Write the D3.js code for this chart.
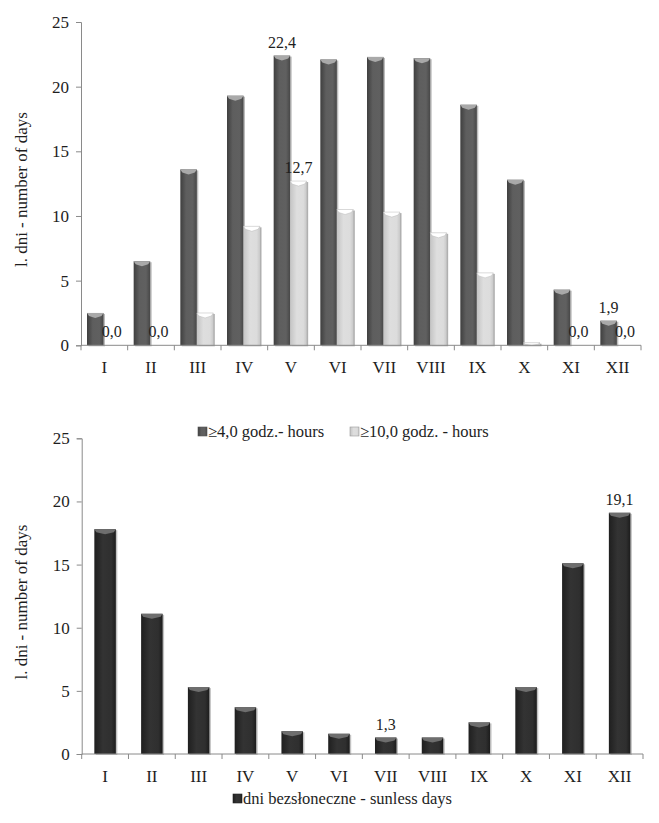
<!DOCTYPE html>
<html><head><meta charset="utf-8">
<script src="https://cdn.jsdelivr.net/npm/d3@7"></script>
<style>
body{margin:0;background:#fff;}
</style></head>
<body><svg id="c" width="659" height="823"></svg>
<script>
const months = ["I","II","III","IV","V","VI","VII","VIII","IX","X","XI","XII"];
const hours4 = [2.5,6.5,13.6,19.3,22.4,22.1,22.3,22.2,18.6,12.8,4.3,1.9];
const hours10 = [0.0,0.0,2.5,9.2,12.7,10.5,10.3,8.7,5.6,0.2,0.0,0.0];
const sunless = [17.8,11.1,5.3,3.7,1.8,1.6,1.3,1.3,2.5,5.3,15.1,19.1];
const yTicks = [0,5,10,15,20,25];
const legendTop = ["≥4,0 godz.- hours","≥10,0 godz. - hours"];
const legendBottom = "dni bezsłoneczne - sunless days";
const yTitle = "l. dni  - number of days";
// labelled points: [series, monthIndex]
const topLabels = [["h10",0],["h10",1],["h4",4],["h10",4],["h4",11],["h10",10],["h10",11]];
const bottomLabels = [6,11];

const FONT = "'Liberation Serif', 'Times New Roman', 'DejaVu Serif', serif";
const svg = d3.select("#c");
const defs = svg.append("defs");
function grad(id, stops){
  const g = defs.append("linearGradient").attr("id",id).attr("x1","0").attr("x2","1").attr("y1","0").attr("y2","0");
  stops.forEach(s=>g.append("stop").attr("offset",s[0]).attr("stop-color",s[1]));
}
grad("gDark",[[0,"#3f3f3f"],[0.35,"#5e5e5e"],[0.75,"#606060"],[1,"#474747"]]);
grad("gLight",[[0,"#c4c4c4"],[0.4,"#dedede"],[0.8,"#dcdcdc"],[1,"#c8c8c8"]]);
grad("gBlack",[[0,"#1f1f1f"],[0.4,"#333333"],[0.8,"#2f2f2f"],[1,"#1c1c1c"]]);
const fmt = v => d3.format(".1f")(v).replace(".",",");

function txt(g, x, y, s, size, anchor){
  return g.append("text").attr("x",x).attr("y",y).attr("text-anchor",anchor||"start")
    .attr("font-family",FONT).style("font-family",FONT).style("font-size",size+"px").attr("fill","#1e1e1e").text(s);
}

function drawBar(g, x, y, w, h, fill, capFill, shadow, capStroke){
  if(h<0) h=0;
  g.append("rect").attr("x",x+1.5).attr("y",y+1).attr("width",w).attr("height",h).attr("fill",shadow);
  g.append("rect").attr("x",x).attr("y",y).attr("width",w).attr("height",h).attr("fill",fill);
  const ch = Math.min(5,h);
  if(ch>0.5){
    g.append("path").attr("d",`M${x},${y}L${x+w},${y}L${x+w-2},${y+ch*0.6}L${x+w/2},${y+ch}L${x+2},${y+ch*0.6}Z`)
      .attr("fill",capFill).attr("stroke",capStroke||"none").attr("stroke-width",0.5);
  }
}

function axes(g, x, y, x0, x1, yBase){
  const ya = d3.axisLeft(y).tickValues(yTicks).tickSize(5).tickPadding(7).tickFormat(d=>d);
  const ag = g.append("g").attr("transform",`translate(${x0},0)`).call(ya);
  ag.attr("font-family",FONT);
  ag.select(".domain").attr("stroke","#8a8a8a");
  ag.selectAll(".tick line").attr("stroke","#8a8a8a");
  ag.selectAll("text").style("font-family",FONT).style("font-size","17px").attr("fill","#1e1e1e");
  g.append("line").attr("x1",x0).attr("x2",x1).attr("y1",yBase).attr("y2",yBase).attr("stroke","#8a8a8a");
  const step = x.step();
  d3.range(13).forEach(i=>{
    const xx = x0 + i*step;
    g.append("line").attr("x1",xx).attr("x2",xx).attr("y1",yBase).attr("y2",yBase+5).attr("stroke","#8a8a8a");
  });
  months.forEach(m=>{
    txt(g, x(m)+x.bandwidth()/2, yBase+28, m, 17, "middle");
  });
}

// ---------- top chart ----------
const T = {x0:81, x1:641, yTop:22, yBase:345.3};
const xT = d3.scaleBand().domain(months).range([T.x0,T.x1]).paddingInner(0).paddingOuter(0);
const yT = d3.scaleLinear().domain([0,25]).range([T.yBase,T.yTop]);
const gT = svg.append("g");
const bw = 16.5, off = 6;
months.forEach((m,i)=>{
  const bx = xT(m)+off;
  drawBar(gT, bx, yT(hours4[i]), bw, T.yBase-yT(hours4[i]), "url(#gDark)", "#a9a9a9", "#bdbdbd");
  drawBar(gT, bx+bw, yT(hours10[i]), bw, T.yBase-yT(hours10[i]), "url(#gLight)", "#ffffff", "#b0b0b0", "#bbbbbb");
});
axes(gT, xT, yT, T.x0, T.x1, T.yBase);
topLabels.forEach(([s,i])=>{
  const v = s==="h4"?hours4[i]:hours10[i];
  const cx = xT(months[i])+off+(s==="h4"?bw/2:bw*1.5);
  txt(gT, cx, yT(v)-8, fmt(v), 16, "middle");
});
txt(gT, 0, 0, yTitle, 17, "middle").attr("x",null).attr("y",null)
  .attr("transform",`translate(27,${(T.yTop+T.yBase)/2+6}) rotate(-90)`);

// legend top
const lg = svg.append("g");
[[198,"url(#gDark)","#555",legendTop[0]],[350,"url(#gLight)","#999",legendTop[1]]].forEach(([lx,f,st,t])=>{
  lg.append("rect").attr("x",lx).attr("y",427).attr("width",9).attr("height",9).attr("fill",f).attr("stroke",st).attr("stroke-width",0.6);
  txt(lg, lx+10, 437, t, 16.5);
});

// ---------- bottom chart ----------
const B = {x0:81.7, x1:643, yTop:438.3, yBase:754};
const xB = d3.scaleBand().domain(months).range([B.x0,B.x1]).paddingInner(0).paddingOuter(0);
const yB = d3.scaleLinear().domain([0,25]).range([B.yBase,B.yTop]);
const gB = svg.append("g");
const bw2 = 21.5;
months.forEach((m,i)=>{
  const bx = xB(m)+xB.bandwidth()/2-bw2/2;
  drawBar(gB, bx, yB(sunless[i]), bw2, B.yBase-yB(sunless[i]), "url(#gBlack)", "#6e6e6e", "#c2c2c2");
});
axes(gB, xB, yB, B.x0, B.x1, B.yBase);
bottomLabels.forEach(i=>{
  txt(gB, xB(months[i])+xB.bandwidth()/2, yB(sunless[i])-8, fmt(sunless[i]), 16, "middle");
});
txt(gB, 0, 0, yTitle, 17, "middle").attr("x",null).attr("y",null)
  .attr("transform",`translate(27,${(B.yTop+B.yBase)/2+6}) rotate(-90)`);
gB.append("rect").attr("x",233).attr("y",794).attr("width",9).attr("height",9).attr("fill","url(#gBlack)").attr("stroke","#222").attr("stroke-width",0.6);
txt(gB, 243, 804, legendBottom, 16.5);
</script></body></html>
